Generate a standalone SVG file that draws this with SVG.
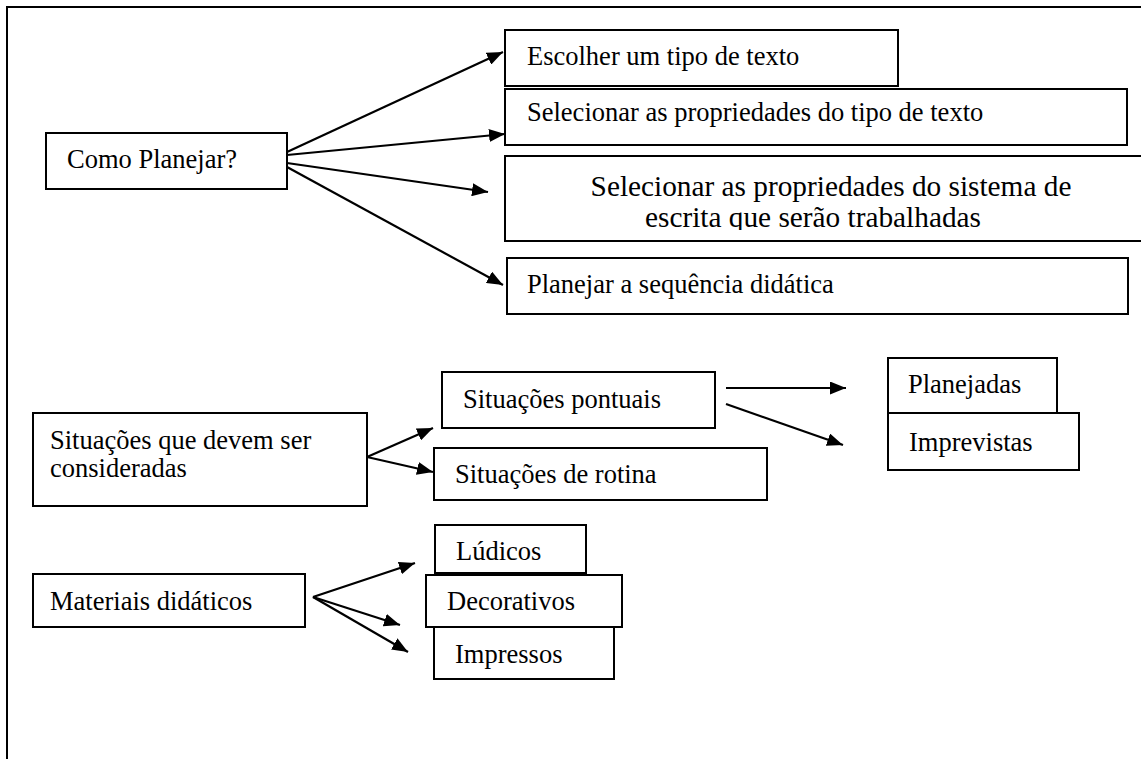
<svg xmlns="http://www.w3.org/2000/svg" width="1141" height="759" viewBox="0 0 1141 759">
<style>
.box{fill:#fff;stroke:#000;stroke-width:2}
.t{font-family:"Liberation Serif","Times New Roman",serif;font-size:26.5px;fill:#000}
.big{font-size:29.3px;text-anchor:middle}
.c{stroke:#000;stroke-width:2.2;fill:none;marker-end:url(#ah)}
.frame{stroke:#000;stroke-width:2;fill:none}
</style>
<defs>
<marker id="ah" viewBox="0 0 16 13" refX="16" refY="6.5" markerWidth="16" markerHeight="13" markerUnits="userSpaceOnUse" orient="auto">
<path d="M0,0 L16,6.5 L0,13 z" fill="#000"/>
</marker>
<clipPath id="clipSys"><rect x="505" y="156" width="636" height="74"/></clipPath>
</defs>
<rect width="1141" height="759" fill="#fff"/>
<path class="frame" d="M7,759 L7,7 L1141,7"/>

<g id="connectors">
<line class="c" x1="287" y1="152" x2="503" y2="52"/>
<line class="c" x1="287" y1="155" x2="505" y2="134"/>
<line class="c" x1="287" y1="163" x2="488" y2="192"/>
<line class="c" x1="287" y1="167" x2="503" y2="285"/>
<line class="c" x1="367" y1="457" x2="433" y2="428"/>
<line class="c" x1="367" y1="457" x2="433" y2="472"/>
<line class="c" x1="726" y1="388" x2="846" y2="388"/>
<line class="c" x1="726" y1="404" x2="843" y2="445"/>
<line class="c" x1="313" y1="597" x2="415" y2="563"/>
<line class="c" x1="313" y1="597" x2="400" y2="625"/>
<line class="c" x1="313" y1="597" x2="408" y2="652"/>
</g>

<g id="como-planejar">
<rect class="box" x="46" y="133" width="241" height="56"/>
<text class="t" x="67" y="168">Como Planejar?</text>
</g>
<g id="escolher">
<rect class="box" x="505" y="30" width="393" height="56"/>
<text class="t" x="527" y="65">Escolher um tipo de texto</text>
</g>
<g id="selecionar-tipo">
<rect class="box" x="505" y="89" width="622" height="56"/>
<text class="t" x="527" y="121">Selecionar as propriedades do tipo de texto</text>
</g>
<g id="selecionar-sistema">
<rect class="box" x="505" y="156" width="640" height="85"/>
<g clip-path="url(#clipSys)">
<text class="t big" x="831" y="196">Selecionar as propriedades do sistema de</text>
<text class="t big" x="813" y="227">escrita que serão trabalhadas</text>
</g>
</g>
<g id="planejar-sequencia">
<rect class="box" x="507" y="258" width="621" height="56"/>
<text class="t" x="527" y="293">Planejar a sequência didática</text>
</g>

<g id="situacoes">
<rect class="box" x="33" y="413" width="334" height="93"/>
<text class="t" x="50" y="449">Situações que devem ser</text>
<text class="t" x="50" y="477">consideradas</text>
</g>
<g id="situacoes-pontuais">
<rect class="box" x="442" y="372" width="273" height="56"/>
<text class="t" x="463" y="408">Situações pontuais</text>
</g>
<g id="situacoes-rotina">
<rect class="box" x="434" y="448" width="333" height="52"/>
<text class="t" x="455" y="483">Situações de rotina</text>
</g>
<g id="planejadas">
<rect class="box" x="888" y="358" width="169" height="55"/>
<text class="t" x="908" y="393">Planejadas</text>
</g>
<g id="imprevistas">
<rect class="box" x="888" y="413" width="191" height="57"/>
<text class="t" x="909" y="451">Imprevistas</text>
</g>

<g id="materiais">
<rect class="box" x="33" y="574" width="272" height="53"/>
<text class="t" x="50" y="610">Materiais didáticos</text>
</g>
<g id="ludicos">
<rect class="box" x="435" y="525" width="151" height="48"/>
<text class="t" x="456" y="560">Lúdicos</text>
</g>
<g id="decorativos">
<rect class="box" x="426" y="575" width="196" height="52"/>
<text class="t" x="447" y="610">Decorativos</text>
</g>
<g id="impressos">
<rect class="box" x="434" y="627" width="180" height="52"/>
<text class="t" x="455" y="663">Impressos</text>
</g>
</svg>
